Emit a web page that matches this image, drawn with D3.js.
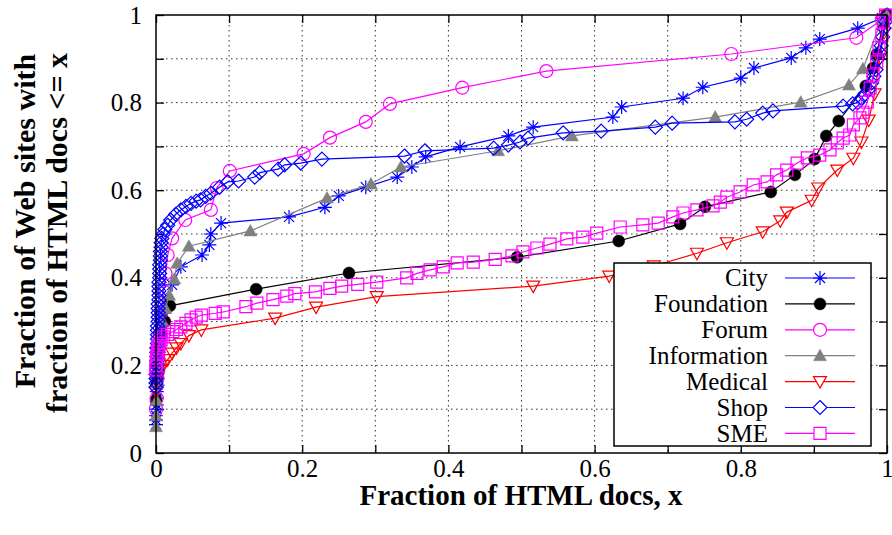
<!DOCTYPE html>
<html>
<head>
<meta charset="utf-8">
<script src="https://cdn.jsdelivr.net/npm/d3@7/dist/d3.min.js"></script>
<style>
  body { margin: 0; background: #fff; }
  svg { display: block; font-family: "Liberation Serif", "Times New Roman", serif; }
</style>
</head>
<body>
<svg id="chart" width="892" height="535"></svg>
<script>
// CDF points [x, y]
var city = [[0,0.065],[0,0.075],[0,0.085],[0.001,0.1],[0.001,0.11],[0.001,0.125],[0.001,0.14],[0.002,0.155],[0.002,0.17],[0.003,0.185],[0.003,0.2],[0.004,0.215],[0.004,0.23],[0.005,0.245],[0.005,0.26],[0.006,0.275],[0.007,0.29],[0.008,0.305],[0.01,0.32],[0.015,0.35],[0.022,0.384],[0.034,0.425],[0.063,0.452],[0.073,0.475],[0.075,0.5],[0.089,0.525],[0.182,0.539],[0.231,0.561],[0.25,0.587],[0.287,0.607],[0.33,0.63],[0.35,0.653],[0.369,0.676],[0.416,0.699],[0.482,0.724],[0.516,0.744],[0.625,0.767],[0.637,0.79],[0.721,0.81],[0.748,0.835],[0.8,0.856],[0.818,0.879],[0.869,0.902],[0.889,0.925],[0.908,0.945],[0.96,0.97],[0.993,0.993],[1,1]];

var foundation = [[0,0.12],[0.001,0.16],[0.002,0.2],[0.004,0.24],[0.007,0.27],[0.012,0.3],[0.019,0.336],[0.137,0.374],[0.264,0.411],[0.494,0.447],[0.633,0.484],[0.717,0.523],[0.751,0.562],[0.841,0.596],[0.874,0.635],[0.901,0.671],[0.917,0.724],[0.934,0.758],[0.971,0.838],[0.981,0.879],[0.986,0.91],[0.995,0.984],[1,1]];

var forum = [[0,0.1],[0.001,0.125],[0.002,0.17],[0.003,0.22],[0.005,0.27],[0.007,0.32],[0.01,0.37],[0.013,0.41],[0.016,0.452],[0.022,0.49],[0.04,0.532],[0.075,0.555],[0.083,0.605],[0.101,0.644],[0.202,0.683],[0.238,0.72],[0.287,0.756],[0.32,0.797],[0.419,0.834],[0.534,0.872],[0.787,0.911],[0.958,0.948],[0.993,0.989],[1,1]];

var information = [[0,0.06],[0,0.085],[0.001,0.12],[0.002,0.16],[0.003,0.2],[0.005,0.25],[0.009,0.3],[0.013,0.33],[0.018,0.36],[0.025,0.397],[0.029,0.433],[0.045,0.472],[0.129,0.507],[0.234,0.582],[0.294,0.614],[0.335,0.653],[0.468,0.69],[0.569,0.724],[0.765,0.767],[0.882,0.801],[0.948,0.84],[0.967,0.877],[0.993,0.99],[1,1]];

var medical = [[0,0.14],[0.002,0.17],[0.005,0.19],[0.01,0.2],[0.016,0.213],[0.022,0.228],[0.028,0.24],[0.034,0.25],[0.045,0.268],[0.062,0.281],[0.163,0.308],[0.219,0.333],[0.302,0.357],[0.516,0.381],[0.62,0.404],[0.681,0.427],[0.74,0.456],[0.781,0.48],[0.83,0.505],[0.854,0.53],[0.863,0.55],[0.897,0.577],[0.906,0.605],[0.932,0.646],[0.954,0.673],[0.965,0.71],[0.975,0.76],[0.983,0.82],[0.99,0.9],[0.996,0.96],[1,1]];

var shop = [[0,0.15],[0,0.16],[0,0.17],[0,0.18],[0.001,0.19],[0.001,0.2],[0.001,0.21],[0.001,0.22],[0.001,0.23],[0.001,0.24],[0.002,0.25],[0.002,0.26],[0.002,0.27],[0.002,0.28],[0.002,0.29],[0.003,0.3],[0.003,0.31],[0.003,0.32],[0.003,0.33],[0.003,0.34],[0.004,0.35],[0.004,0.36],[0.004,0.37],[0.004,0.38],[0.004,0.39],[0.005,0.4],[0.005,0.41],[0.005,0.42],[0.005,0.43],[0.006,0.44],[0.006,0.45],[0.006,0.46],[0.007,0.47],[0.007,0.48],[0.008,0.49],[0.01,0.5],[0.012,0.51],[0.016,0.52],[0.02,0.532],[0.027,0.545],[0.034,0.555],[0.041,0.563],[0.048,0.57],[0.055,0.575],[0.061,0.578],[0.068,0.586],[0.075,0.593],[0.087,0.607],[0.098,0.619],[0.113,0.621],[0.135,0.63],[0.142,0.64],[0.167,0.648],[0.176,0.658],[0.198,0.662],[0.227,0.671],[0.34,0.678],[0.368,0.69],[0.462,0.696],[0.482,0.703],[0.498,0.71],[0.509,0.719],[0.557,0.731],[0.609,0.735],[0.683,0.744],[0.706,0.753],[0.792,0.756],[0.808,0.762],[0.83,0.776],[0.844,0.781],[0.94,0.792],[0.953,0.797],[0.96,0.8],[0.965,0.81],[0.97,0.82],[0.975,0.83],[0.979,0.845],[0.982,0.86],[0.985,0.875],[0.988,0.9],[0.99,0.915],[0.992,0.93],[0.994,0.95],[0.996,0.97],[0.998,0.985],[1,1]];

var sme = [[0,0.19],[0,0.2],[0.001,0.21],[0.001,0.217],[0.002,0.225],[0.002,0.232],[0.003,0.24],[0.004,0.245],[0.005,0.25],[0.007,0.258],[0.01,0.265],[0.016,0.271],[0.023,0.277],[0.028,0.282],[0.034,0.288],[0.041,0.296],[0.048,0.304],[0.055,0.31],[0.062,0.315],[0.081,0.319],[0.092,0.322],[0.123,0.334],[0.138,0.342],[0.16,0.35],[0.179,0.358],[0.19,0.364],[0.218,0.368],[0.238,0.376],[0.254,0.381],[0.276,0.385],[0.302,0.39],[0.343,0.4],[0.357,0.41],[0.375,0.418],[0.393,0.425],[0.412,0.434],[0.434,0.436],[0.464,0.442],[0.487,0.45],[0.502,0.459],[0.521,0.468],[0.539,0.477],[0.562,0.489],[0.584,0.493],[0.603,0.502],[0.635,0.516],[0.666,0.521],[0.687,0.525],[0.707,0.539],[0.721,0.548],[0.74,0.555],[0.762,0.564],[0.772,0.573],[0.781,0.584],[0.799,0.596],[0.817,0.612],[0.836,0.619],[0.849,0.635],[0.863,0.646],[0.877,0.662],[0.891,0.674],[0.908,0.68],[0.922,0.692],[0.932,0.708],[0.94,0.719],[0.949,0.726],[0.954,0.749],[0.963,0.765],[0.967,0.778],[0.973,0.801],[0.977,0.833],[0.981,0.863],[0.986,0.893],[0.989,0.925],[0.993,0.954],[0.995,0.984],[0.998,1]];

var seriesNames = ["City", "Foundation", "Forum", "Information", "Medical", "Shop", "SME"];
var seriesData = [city, foundation, forum, information, medical, shop, sme];
var seriesColors = ["#0000ff", "#000000", "#ff00ff", "#808080", "#ff0000", "#0000ff", "#ff00ff"];
var seriesMarkers = ["asterisk", "dot", "circle", "triangleUp", "triangleDown", "diamond", "square"];

var tickValues = [0, 0.1, 0.2, 0.3, 0.4, 0.5, 0.6, 0.7, 0.8, 0.9, 1];
var gridValues = [0.1, 0.2, 0.3, 0.4, 0.5, 0.6, 0.7, 0.8, 0.9];

var svg = d3.select("#chart");
var plotLeft = 156, plotRight = 887, plotTop = 15, plotBottom = 453;
var width = plotRight - plotLeft, height = plotBottom - plotTop;

var x = d3.scaleLinear().domain([0, 1]).range([0, width]);
var y = d3.scaleLinear().domain([0, 1]).range([height, 0]);

var g = svg.append("g").attr("transform", "translate(" + plotLeft + "," + plotTop + ")");

// dotted grid
g.selectAll(".vgrid").data(gridValues).enter().append("line")
    .attr("x1", function(d) { return x(d); }).attr("x2", function(d) { return x(d); })
    .attr("y1", 0).attr("y2", height)
    .attr("stroke", "#333").attr("stroke-width", 1).attr("stroke-dasharray", "1.5,3.5");
g.selectAll(".hgrid").data(gridValues).enter().append("line")
    .attr("y1", function(d) { return y(d); }).attr("y2", function(d) { return y(d); })
    .attr("x1", 0).attr("x2", width)
    .attr("stroke", "#333").attr("stroke-width", 1).attr("stroke-dasharray", "1.5,3.5");

function label(v) {
    return Math.round(v * 10) % 2 ? "" : String(+v.toFixed(1));
}

// axes, ticks pointing inwards
g.append("g").attr("transform", "translate(0," + height + ")")
    .call(d3.axisBottom(x).tickValues(tickValues).tickSize(-8).tickPadding(6).tickFormat(label));
g.append("g")
    .call(d3.axisLeft(y).tickValues(tickValues).tickSize(-8).tickPadding(14).tickFormat(label));
g.append("g").call(d3.axisTop(x).tickValues(tickValues).tickSize(-8).tickFormat(""));
g.append("g").attr("transform", "translate(" + width + ",0)")
    .call(d3.axisRight(y).tickValues(tickValues).tickSize(-8).tickFormat(""));

g.selectAll(".domain").remove();
g.selectAll(".tick line").attr("stroke", "#000").attr("stroke-width", 1.3);
g.selectAll(".tick text").attr("fill", "#000")
    .style("font-family", "'Liberation Serif', serif").style("font-size", "25px");

// marker shapes
function markerPath(type) {
    if (type == "asterisk") {
        var a = 7, b = 5;
        return "M" + (-a) + ",0H" + a + "M0," + (-a) + "V" + a +
               "M" + (-b) + "," + (-b) + "L" + b + "," + b + "M" + (-b) + "," + b + "L" + b + "," + (-b);
    }
    if (type == "dot" || type == "circle") {
        var r = type == "dot" ? 6 : 6.5;
        return "M" + (-r) + ",0A" + r + "," + r + " 0 1,0 " + r + ",0A" + r + "," + r + " 0 1,0 " + (-r) + ",0Z";
    }
    if (type == "triangleUp") return "M0,-6.5L6.5,5L-6.5,5Z";
    if (type == "triangleDown") return "M0,6.5L6.5,-5L-6.5,-5Z";
    if (type == "diamond") return "M0,-7L7,0L0,7L-7,0Z";
    if (type == "square") return "M-6,-6H6V6H-6Z";
}

function filled(type) { return type == "dot" || type == "triangleUp"; }

var line = d3.line().x(function(d) { return x(d[0]); }).y(function(d) { return y(d[1]); });

seriesData.forEach(function(data, i) {
    var color = seriesColors[i];
    var type = seriesMarkers[i];
    g.append("path").datum(data)
        .attr("d", line)
        .attr("fill", "none")
        .attr("stroke", color)
        .attr("stroke-width", 1.2);

    g.selectAll(".pt" + i).data(data).enter().append("path")
        .attr("class", "pt" + i)
        .attr("transform", function(d) { return "translate(" + x(d[0]) + "," + y(d[1]) + ")"; })
        .attr("d", markerPath(type))
        .attr("fill", filled(type) ? color : "none")
        .attr("stroke", color)
        .attr("stroke-width", filled(type) ? 0.5 : 1.2);
});

// frame
g.append("rect").attr("x", 0).attr("y", 0).attr("width", width).attr("height", height)
    .attr("fill", "none").attr("stroke", "#000").attr("stroke-width", 1.5);

// legend
var legend = svg.append("g").attr("transform", "translate(614,263)");
legend.append("rect").attr("width", 257).attr("height", 183)
    .attr("fill", "#fff").attr("stroke", "#000").attr("stroke-width", 1.5);

var rows = legend.selectAll(".row").data(seriesNames).enter().append("g")
    .attr("transform", function(d, i) { return "translate(0," + (15 + i * 25.9) + ")"; });
rows.append("text")
    .attr("x", 154).attr("dy", "0.33em")
    .attr("text-anchor", "end")
    .style("font-size", "25px")
    .text(function(d) { return d; });
rows.append("line")
    .attr("x1", 171).attr("x2", 241).attr("y1", 0).attr("y2", 0)
    .attr("stroke", function(d, i) { return seriesColors[i]; })
    .attr("stroke-width", 1.2);
rows.append("path")
    .attr("transform", "translate(206,0)")
    .attr("d", function(d, i) { return markerPath(seriesMarkers[i]); })
    .attr("fill", function(d, i) { return filled(seriesMarkers[i]) ? seriesColors[i] : "#fff"; })
    .attr("stroke", function(d, i) { return seriesColors[i]; })
    .attr("stroke-width", function(d, i) { return filled(seriesMarkers[i]) ? 0.5 : 1.2; });

// axis titles
svg.append("text")
    .attr("x", 521).attr("y", 505)
    .attr("text-anchor", "middle")
    .style("font-size", "29px").style("font-weight", "bold")
    .text("Fraction of HTML docs, x");

svg.append("text")
    .attr("transform", "translate(35,221) rotate(-90)")
    .attr("text-anchor", "middle")
    .style("font-size", "30px").style("font-weight", "bold")
    .text("Fraction of Web sites with");
svg.append("text")
    .attr("transform", "translate(67,233) rotate(-90)")
    .attr("text-anchor", "middle")
    .style("font-size", "30px").style("font-weight", "bold")
    .text("fraction of HTML docs <= x");
</script>
</body>
</html>
